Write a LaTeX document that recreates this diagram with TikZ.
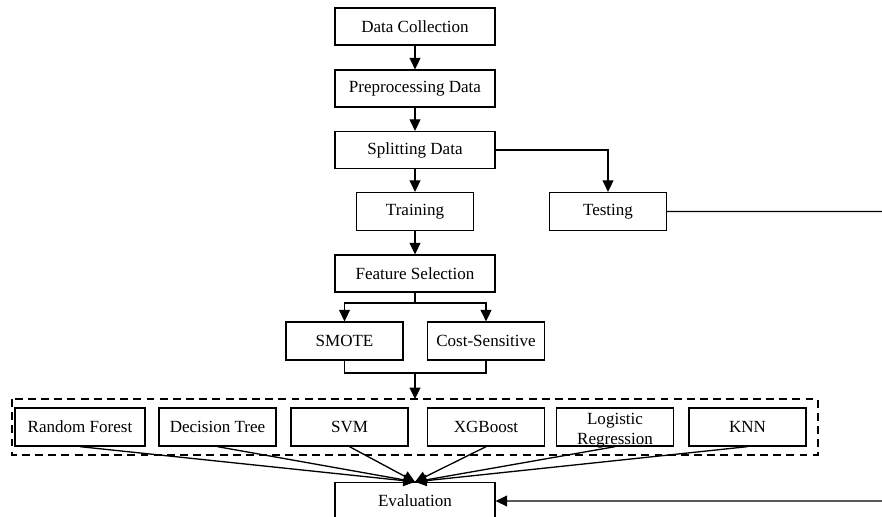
\documentclass[tikz,border=0pt]{standalone}
\usepackage{fontspec}
\setmainfont{Liberation Serif}
\usetikzlibrary{arrows.meta}
\begin{document}
\begin{tikzpicture}[node distance=1.24cm, font=\fontsize{9.7}{11.5}\selectfont, line width=0.75pt]

\tikzstyle{bx} = [rectangle, minimum height=0.74cm, minimum width=3.2cm, text centered, draw=black]
\tikzstyle{sm} = [rectangle, minimum height=0.76cm, minimum width=2.34cm, text centered, draw=black]
\tikzstyle{arr} = [-{Triangle[length=0.23cm,width=0.22cm]}]
\useasboundingbox (0,0) rectangle (17.64,-10.34);
\node (coll) [bx] at (8.3,-0.53) {Data Collection};
\node (prep) [bx, below of=coll] {Preprocessing Data};
\node (split) [bx, below of=prep, node distance=1.23cm] {Splitting Data};
\node (train) [sm, below of=split, node distance=1.23cm] {Training};
\node (test) [sm, right of=train, node distance=3.86cm] {Testing};
\node (feat) [bx, below of=train] {Feature Selection};
\node (smote) [sm, below of=feat, node distance=1.35cm, xshift=-1.41cm] {SMOTE};
\node (cost) [sm, right of=smote, node distance=2.83cm] {Cost-Sensitive};
% classifiers
\node (rf) [sm, minimum width=2.6cm] at (1.6,-8.54) {Random Forest};
\node (dt) [sm, right of=rf, node distance=2.75cm] {Decision Tree};
\node (svm) [sm, right of=dt, node distance=2.64cm] {SVM};
\node (xgb) [sm, right of=svm, node distance=2.73cm] {XGBoost};
\node (lr) [sm, right of=xgb, node distance=2.58cm] {\raisebox{-4.4pt}[0pt][0pt]{\begin{tabular}{@{}c@{}}Logistic\\Regression\end{tabular}}};
\node (knn) [sm, right of=lr, node distance=2.65cm] {KNN};
\node (eval) [bx, below of=feat, node distance=4.55cm] {Evaluation};
\draw[dash pattern=on 4.5pt off 3pt] (0.24,-7.98) rectangle (16.36,-9.1);
\coordinate (fork) at (8.3,-6.06);
\coordinate (join) at (8.3,-7.46);
\coordinate (grp) at (8.3,-7.98);
\coordinate (tend) at (17.64,-4.23);
\coordinate (eend) at (17.64,-10.02);
\draw[arr] (coll)--(prep);
\draw[arr] (prep)--(split);
\draw[arr] (split)--(train);
\draw[arr] (split.east) -| (test);
\draw (test)--(tend);
\draw[arr] (train)--(feat);
\draw (feat)--(fork);
\draw[arr] (fork) -| (smote);
\draw[arr] (fork) -| (cost);
\draw (smote) |- (join) -| (cost);
\draw[arr] (join)--(grp);
\foreach \m in {rf,dt,svm,xgb,lr,knn}
  \draw[arr] (\m.south)--(eval.north);
\draw[arr] (eend)--(eval);
\end{tikzpicture}
\end{document}
